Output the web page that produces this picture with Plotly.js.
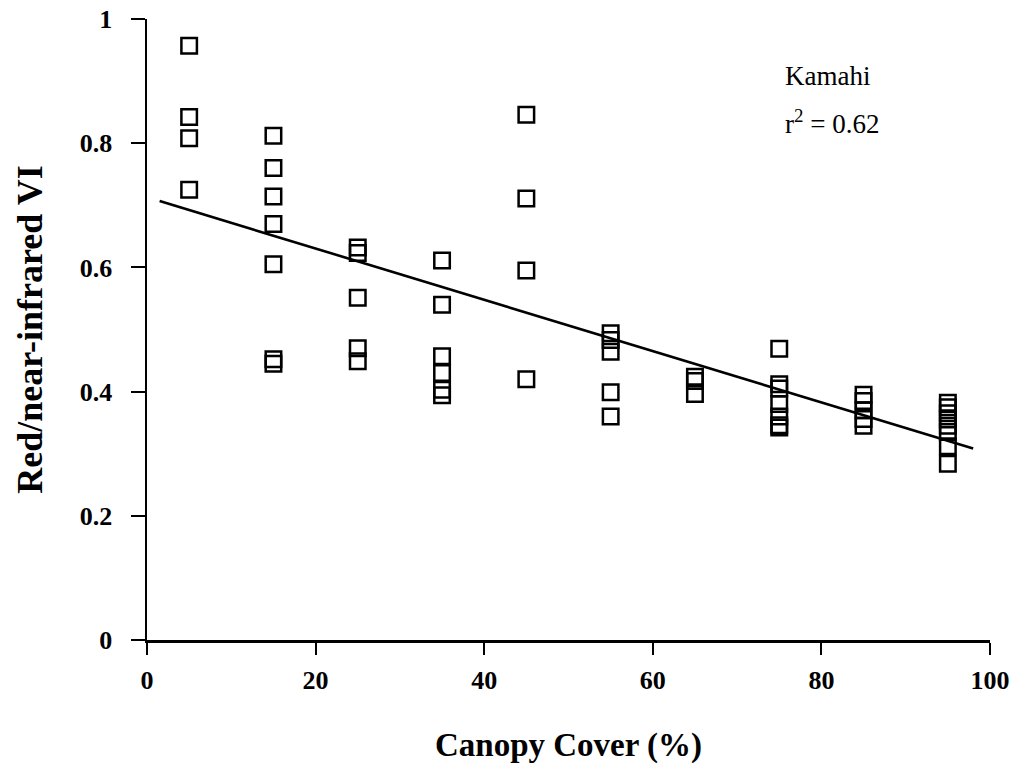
<!DOCTYPE html>
<html>
<head>
<meta charset="utf-8">
<script src="https://cdn.plot.ly/plotly-3.0.1.min.js"></script>
<style>html,body{margin:0;padding:0;background:#fff;}#chart{width:1026px;height:771px;}</style>
</head>
<body>
<div id="chart"></div>
<script>
// Canopy cover classes (%)
const coverClasses = [5, 15, 25, 35, 45, 55, 65, 75, 85, 95];
// Red/near-infrared VI values observed in each class
const vi5  = [0.957, 0.842, 0.808, 0.725];
const vi15 = [0.812, 0.760, 0.714, 0.670, 0.605, 0.452, 0.445];
const vi25 = [0.632, 0.623, 0.551, 0.470, 0.449];
const vi35 = [0.611, 0.540, 0.457, 0.430, 0.403, 0.394];
const vi45 = [0.846, 0.711, 0.595, 0.420];
const vi55 = [0.494, 0.483, 0.464, 0.399, 0.360];
const vi65 = [0.424, 0.417, 0.396];
const vi75 = [0.469, 0.412, 0.405, 0.380, 0.360, 0.346, 0.342];
const vi85 = [0.395, 0.385, 0.370, 0.356, 0.345];
const vi95 = [0.382, 0.375, 0.365, 0.355, 0.345, 0.335, 0.312, 0.284];
// Regression fit
const fitIntercept = 0.713;
const fitSlope = -0.00413;
const fitRange = [1.5, 98];
const fitLabel = ["Kamahi", "r<sup>2</sup> = 0.62"];
const xTicks = [0, 20, 40, 60, 80, 100];
const yTicks = [0, 0.2, 0.4, 0.6, 0.8, 1];
const yTickText = ["0", "0.2", "0.4", "0.6", "0.8", "1"];

const groups = [vi5, vi15, vi25, vi35, vi45, vi55, vi65, vi75, vi85, vi95];
const px = [], py = [];
groups.forEach((g, i) => g.forEach(v => { px.push(coverClasses[i]); py.push(v); }));

const fitY = fitRange.map(x => fitIntercept + fitSlope * x);

const serif = "Liberation Serif, Times New Roman, serif";

const traces = [
  {
    x: px, y: py, type: "scatter", mode: "markers",
    marker: {symbol: "square-open", size: 15.5, color: "#000", line: {width: 2.5, color: "#000"}},
    showlegend: false, hoverinfo: "x+y"
  },
  {
    x: fitRange, y: fitY, type: "scatter", mode: "lines",
    line: {color: "#000", width: 2.6}, showlegend: false
  }
];

const layout = {
  width: 1026, height: 771,
  margin: {l: 147, r: 36, t: 19, b: 131},
  paper_bgcolor: "#fff", plot_bgcolor: "#fff",
  showlegend: false,
  font: {family: serif, color: "#000"},
  xaxis: {
    range: [0, 100], tickvals: xTicks, ticktext: xTicks.map(String),
    showgrid: false, zeroline: false, showline: true, linecolor: "#000", linewidth: 2.5,
    ticks: "outside", ticklen: 12, tickwidth: 2, tickcolor: "#000",
    ticklabelstandoff: 3,
    tickfont: {family: serif, size: 26, color: "#000", weight: "bold"},
    title: {text: "<b>Canopy Cover (%)</b>", font: {family: serif, size: 33, color: "#000"}, standoff: 39},
    automargin: false
  },
  yaxis: {
    range: [0, 1], tickvals: yTicks, ticktext: yTickText,
    showgrid: false, zeroline: false, showline: true, linecolor: "#000", linewidth: 2.5,
    ticks: "outside", ticklen: 14, tickwidth: 2, tickcolor: "#000",
    ticklabelstandoff: 13,
    tickfont: {family: serif, size: 26, color: "#000", weight: "bold"},
    title: {text: "<b>Red/near-infrared VI</b>", font: {family: serif, size: 36, color: "#000"}, standoff: 26},
    automargin: false
  },
  annotations: [
    {x: 75.4, y: 0.908, xref: "x", yref: "y", xanchor: "left", yanchor: "middle",
     text: fitLabel[0], showarrow: false, font: {family: serif, size: 27, color: "#000"}},
    {x: 75.4, y: 0.834, xref: "x", yref: "y", xanchor: "left", yanchor: "middle",
     text: fitLabel[1], showarrow: false, font: {family: serif, size: 27, color: "#000"}}
  ]
};

Plotly.newPlot("chart", traces, layout, {displayModeBar: false, staticPlot: true});
</script>
</body>
</html>
